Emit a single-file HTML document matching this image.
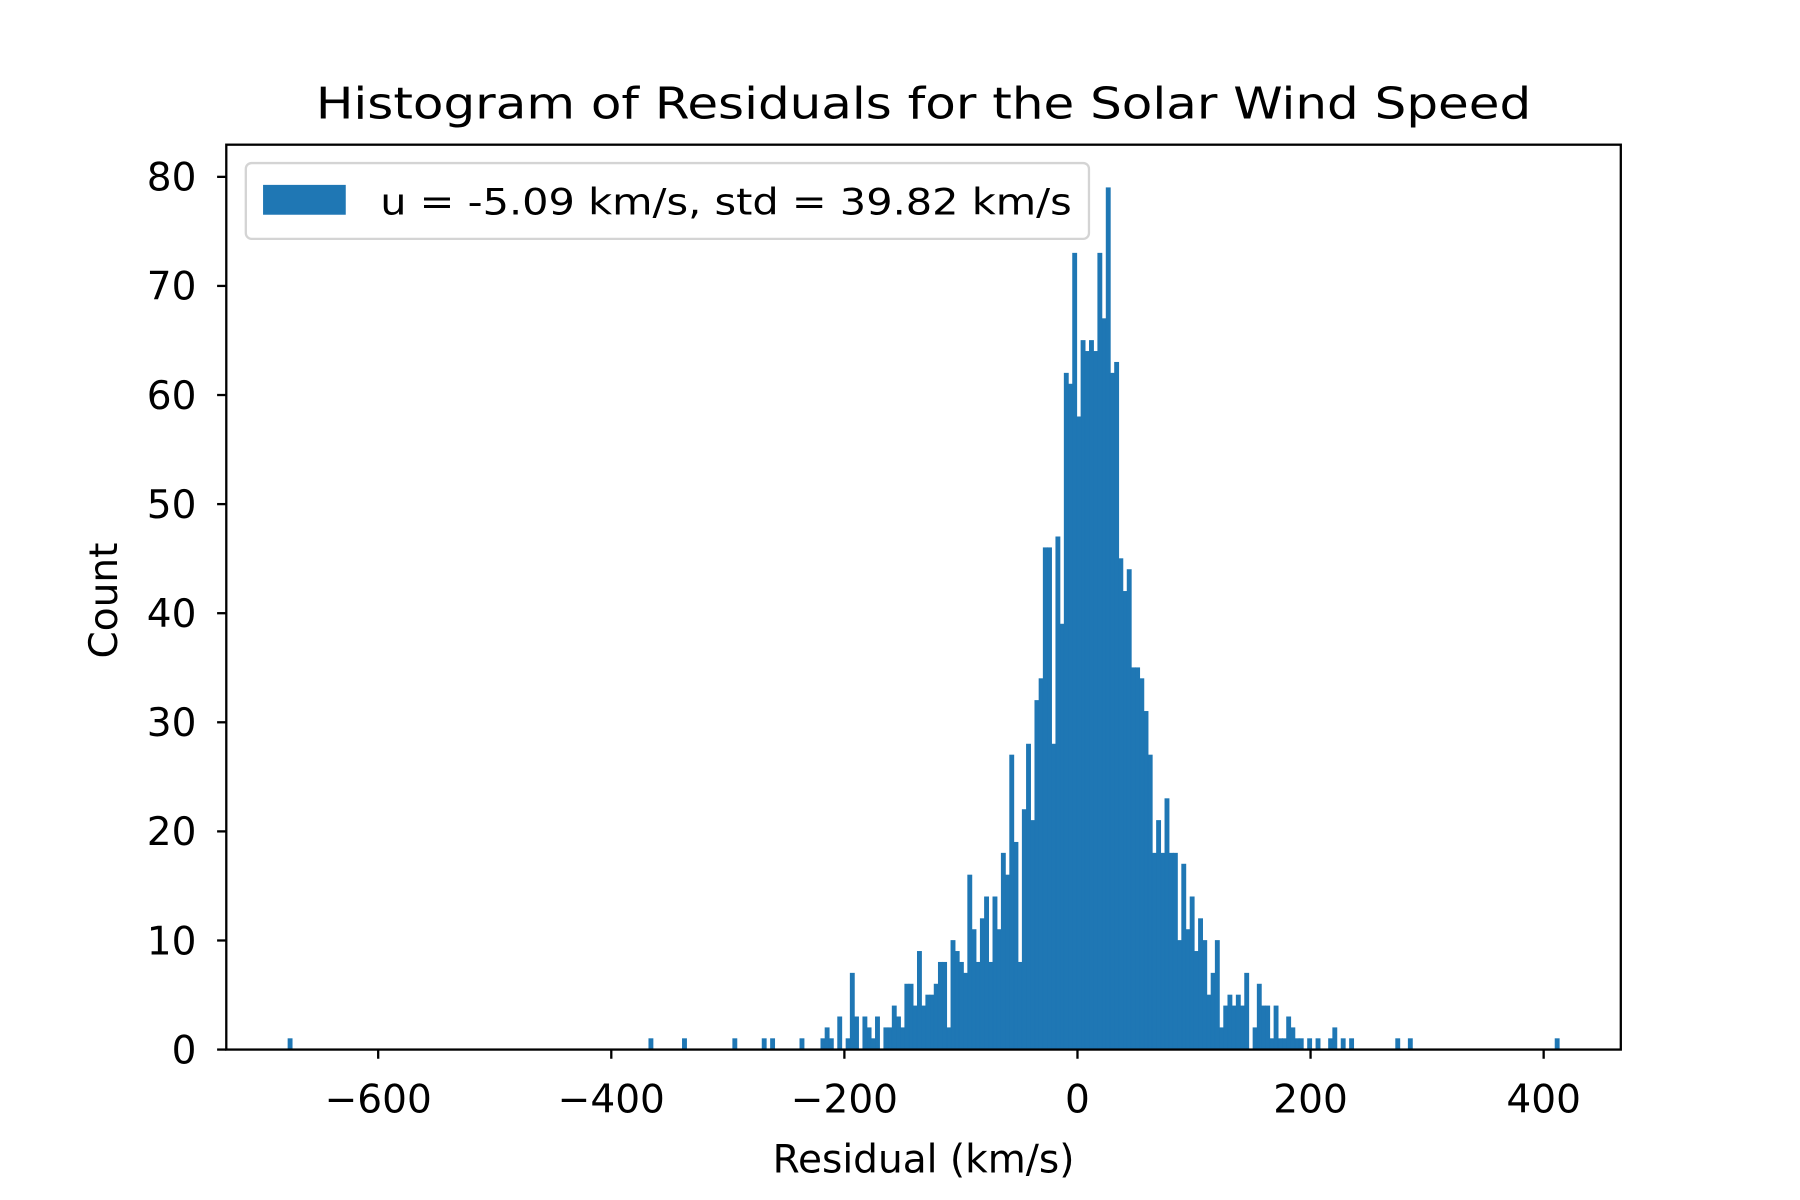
<!DOCTYPE html>
<html><head><meta charset="utf-8"><style>
html,body{margin:0;padding:0;background:#fff;width:1800px;height:1200px;overflow:hidden}
svg{display:block}
text{font-family:"DejaVu Sans","Liberation Sans",sans-serif;fill:#000}
</style></head><body>
<svg id="chart" width="1800" height="1200" viewBox="0 0 1567 1045" preserveAspectRatio="none" xmlns="http://www.w3.org/2000/svg">
<rect x="0" y="0" width="1567" height="1045" fill="#fff"/>
<text x="804" y="103" text-anchor="middle" font-size="38" textLength="1058" lengthAdjust="spacingAndGlyphs">Histogram of Residuals for the Solar Wind Speed</text>
<g id="bars"></g>
<g id="axes"></g>
<rect x="197" y="126" width="1214" height="788" fill="none" stroke="#000" stroke-width="2"/>
<text x="0" y="0" transform="translate(102,523) rotate(-90)" text-anchor="middle" font-size="34">Count</text>
<text x="804" y="1021" text-anchor="middle" font-size="34">Residual (km/s)</text>
<g>
<rect x="214" y="142" width="734" height="66" rx="5" fill="#fff" fill-opacity="0.8" stroke="#d4d4d4" stroke-width="2"/>
<rect x="229" y="161" width="72" height="26" fill="#1f77b4"/>
<text x="331" y="187" font-size="32" textLength="602" lengthAdjust="spacingAndGlyphs">u = -5.09 km/s, std = 39.82 km/s</text>
</g>
</svg>
<script>
const binStart = -220.2;
const binWidth = 3.6;
const counts = [1,
2,1,0,3,0,1,7,3,0,3,2,1,3,0,2,2,4,3,2,6,6,4,9,4,5,5,6,8,8,2,10,9,8,7,16,11,8,12,14,8,14,11,18,16,
27,19,8,22,28,21,32,34,46,46,28,47,39,62,61,73,58,65,64,65,64,73,67,79,62,63,45,42,44,35,35,34,31,27,18,21,18,23,18,18,10,17,11,14,9,12,10,5,7,10,2,4,5,4,5,4,7,0,2,6,4,4,1,4,1,1,3,2,1,1,0,1,0,1,0,0,1,2,0,1,0,1,
0,0,0,0,0,0,0,0,0,0,1,0,0,1];
const outlierResiduals = [-675, -366.6, -337, -294.7, -269, -261, -236.5, 410];
const xTicks = [-600, -400, -200, 0, 200, 400];
const xTickLabels = ["\u2212600", "\u2212400", "\u2212200", "0", "200", "400"];
const yTicks = [0, 10, 20, 30, 40, 50, 60, 70, 80];
const yTickLabels = ["0", "10", "20", "30", "40", "50", "60", "70", "80"];

const NS = "http://www.w3.org/2000/svg";
const xs = v => 938 + v * 1.0146;
const ys = c => 914 - c * 9.5;
const bars = document.getElementById('bars');
const axes = document.getElementById('axes');

function addBar(left, c) {
  if (c <= 0) return;
  const r = document.createElementNS(NS, 'rect');
  const x0 = xs(left), x1 = xs(left + binWidth);
  r.setAttribute('x', x0);
  r.setAttribute('width', Math.max(x1 - x0, 1));
  r.setAttribute('y', ys(c));
  r.setAttribute('height', ys(0) - ys(c));
  r.setAttribute('fill', '#1f77b4');
  r.setAttribute('stroke', '#1f77b4');
  r.setAttribute('stroke-width', '0.6');
  
  
  bars.appendChild(r);
}
counts.forEach((c, i) => addBar(binStart + i * binWidth, c));
outlierResiduals.forEach(v => {
  const left = binStart + Math.floor((v - binStart) / binWidth) * binWidth;
  addBar(left, 1);
});

xTicks.forEach((t, i) => {
  const x = xs(t);
  const l = document.createElementNS(NS, 'line');
  l.setAttribute('x1', x); l.setAttribute('x2', x);
  l.setAttribute('y1', 914); l.setAttribute('y2', 922);
  l.setAttribute('stroke', '#000'); l.setAttribute('stroke-width', '2');
  
  
  axes.appendChild(l);
  const tx = document.createElementNS(NS, 'text');
  tx.setAttribute('x', x);
  tx.setAttribute('y', 969);
  tx.setAttribute('text-anchor', 'middle');
  tx.setAttribute('font-size', '34');
  tx.textContent = xTickLabels[i];
  
  
  axes.appendChild(tx);
});
yTicks.forEach((t, i) => {
  const y = ys(t);
  const l = document.createElementNS(NS, 'line');
  l.setAttribute('x1', 189); l.setAttribute('x2', 197);
  l.setAttribute('y1', y); l.setAttribute('y2', y);
  l.setAttribute('stroke', '#000'); l.setAttribute('stroke-width', '2');
  
  
  axes.appendChild(l);
  const tx = document.createElementNS(NS, 'text');
  tx.setAttribute('x', 171);
  tx.setAttribute('y', y + 12);
  tx.setAttribute('text-anchor', 'end');
  tx.setAttribute('font-size', '34');
  tx.textContent = yTickLabels[i];
  
  
  axes.appendChild(tx);
});
</script>
</body></html>
